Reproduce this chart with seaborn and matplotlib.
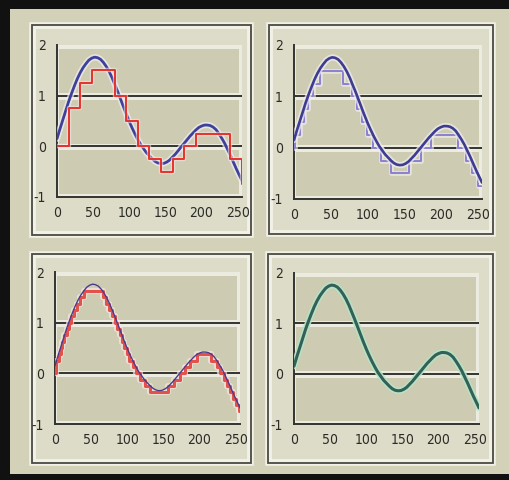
import matplotlib
matplotlib.use("Agg")
import matplotlib.pyplot as plt
import matplotlib.patheffects as pe
from matplotlib.patches import Rectangle
from matplotlib import font_manager
import seaborn as sns

# ---------------- data ----------------
curve_x = [0, 4, 8, 12, 16, 20, 24, 28, 32, 36, 40, 44, 48, 52, 56, 60, 64, 68, 72, 76,
           80, 84, 88, 92, 96, 100, 104, 108, 112, 116, 120, 124, 128, 132, 136, 140, 144,
           148, 152, 156, 160, 164, 168, 172, 176, 180, 184, 188, 192, 196, 200, 204, 208,
           212, 216, 220, 224, 228, 232, 236, 240, 244, 248, 252, 256]
curve_y = [0.15, 0.34, 0.52, 0.70, 0.88, 1.04, 1.19, 1.33, 1.45, 1.55, 1.63, 1.70, 1.74,
           1.76, 1.75, 1.72, 1.66, 1.58, 1.48, 1.36, 1.22, 1.08, 0.93, 0.78, 0.63, 0.49,
           0.36, 0.24, 0.13, 0.03, -0.05, -0.13, -0.19, -0.25, -0.30, -0.33, -0.34, -0.335,
           -0.31, -0.27, -0.21, -0.15, -0.08, -0.01, 0.06, 0.13, 0.20, 0.26, 0.32, 0.37,
           0.40, 0.42, 0.42, 0.41, 0.38, 0.33, 0.25, 0.16, 0.06, -0.06, -0.18, -0.31, -0.44,
           -0.56, -0.68]

# top-left: coarse sample-and-hold (red)
coarse_x = [0, 16, 32, 48, 64, 80, 96, 112, 128, 144, 160, 176, 192, 208, 224, 240, 256]
coarse_y = [0, 0.75, 1.25, 1.5, 1.5, 1.0, 0.5, 0, -0.25, -0.5, -0.25, 0, 0.25, 0.25, 0.25, -0.25, -0.75]

# top-right: quarter-step quantised (purple)
quarter_x = [0, 2, 8, 13, 19, 26, 36, 67, 79, 86, 93, 100, 108, 118, 132, 157, 173,
             187, 224, 234, 242, 250, 256]
quarter_y = [0, 0.25, 0.5, 0.75, 1.0, 1.25, 1.5, 1.25, 1.0, 0.75, 0.5, 0.25, 0, -0.25,
             -0.5, -0.25, 0, 0.25, 0, -0.25, -0.5, -0.75, -0.75]

# bottom-left: eighth-step quantised (red)
eighth_x = [0, 1, 2, 5, 8, 10, 13, 16, 19, 22, 26, 30, 34, 40, 66, 71, 75, 79, 83, 86,
            90, 93, 96, 100, 103, 108, 112, 118, 124, 132, 157, 165, 173, 180, 187, 197,
            216, 224, 229, 234, 238, 242, 246, 250, 254, 256]
eighth_y = [0, 0.125, 0.25, 0.375, 0.5, 0.625, 0.75, 0.875, 1.0, 1.125, 1.25, 1.375, 1.5,
            1.625, 1.5, 1.375, 1.25, 1.125, 1.0, 0.875, 0.75, 0.625, 0.5, 0.375, 0.25,
            0.125, 0, -0.125, -0.25, -0.375, -0.25, -0.125, 0, 0.125, 0.25, 0.375, 0.25,
            0.125, 0, -0.125, -0.25, -0.375, -0.5, -0.625, -0.75, -0.75]

x_ticks = [0, 50, 100, 150, 200, 250]
y_ticks = [-1, 0, 1, 2]

# ---------------- style ----------------
sns.set_style("white")
avail = {f.name for f in font_manager.fontManager.ttflist}
fam = "Liberation Sans Narrow" if "Liberation Sans Narrow" in avail else "DejaVu Sans"
plt.rcParams["font.family"] = [fam]

W, H = 510, 480
BG = "#d3d1b7"
PANEL = "#dddcc8"
BAND = "#cdcbb1"
LIGHT = "#ecebe0"

fig = plt.figure(figsize=(W / 100, H / 100), dpi=100, facecolor=BG)


def frect(l, t, r, b):
    return [l / W, 1 - b / H, (r - l) / W, (b - t) / H]


def fig_box(l, t, r, b, z, **kw):
    fig.patches.append(Rectangle((l / W, 1 - b / H), (r - l) / W, (b - t) / H,
                                 transform=fig.transFigure, zorder=z, **kw))


# black border (top, left, bottom)
fig_box(0, 0, W, 9, -1, facecolor="#111111", edgecolor="none")
fig_box(0, 0, 10, H, -1, facecolor="#111111", edgecolor="none")
fig_box(0, 474, W, H, -1, facecolor="#111111", edgecolor="none")

# panel frames
frames = [(32, 25, 251, 235), (269, 25, 493, 234), (32, 254, 251, 463), (268, 254, 493, 463)]
for (l, t, r, b) in frames:
    fig_box(l, t, r, b, -3, facecolor=PANEL, edgecolor="#f2f1e8", linewidth=4)
    fig_box(l, t, r, b, -2, facecolor="none", edgecolor="#4a4a44", linewidth=1.3)
    fig_box(l + 3, t + 3, r - 3, b - 3, -2, facecolor="none", edgecolor="#f4f3ea",
            linewidth=1.2)

axes_px = [(57, 45, 242, 197), (294, 45, 482, 199), (55, 272, 240, 424), (294, 273, 479, 424)]

halo = [pe.Stroke(linewidth=4.5, foreground="#f3eef0", alpha=0.7), pe.Normal()]

axes = []
for (l, t, r, b) in axes_px:
    ax = fig.add_axes(frect(l, t, r, b))
    ax.set_zorder(5)
    ax.set_facecolor(LIGHT)
    ax.set_xlim(0, 256)
    ax.set_ylim(-1, 2)
    for k in (-1, 0, 1):
        ax.add_patch(Rectangle((3, k + 0.05), 249, 0.87, facecolor=BAND,
                               edgecolor="none", zorder=0))
    for gy in (0, 1):
        ax.axhline(gy, color="#333330", lw=1.4, zorder=1)
    for s in ("top", "right"):
        ax.spines[s].set_visible(False)
    for s in ("left", "bottom"):
        ax.spines[s].set_color("#333330")
        ax.spines[s].set_linewidth(1.4)
    ax.set_xticks(x_ticks)
    ax.set_yticks(y_ticks)
    ax.set_xticklabels([str(v) for v in x_ticks], fontstretch="condensed")
    ax.set_yticklabels([str(v) for v in y_ticks], fontstretch="condensed")
    ax.tick_params(axis="x", direction="inout", length=5, width=1, color="#333330",
                   labelsize=10, labelcolor="#2b2b28", pad=4)
    ax.tick_params(axis="y", direction="out", length=3, width=1, color="#333330",
                   labelsize=10, labelcolor="#2b2b28", pad=5)
    axes.append(ax)

# top-left
ax = axes[0]
sns.lineplot(x=curve_x, y=curve_y, ax=ax, color="#3d419c", lw=2.0, estimator=None,
             sort=False, path_effects=halo, zorder=3)
sns.lineplot(x=coarse_x, y=coarse_y, ax=ax, color="#e5322c", lw=1.4, estimator=None,
             sort=False, drawstyle="steps-post", zorder=4,
             path_effects=[pe.Stroke(linewidth=3.2, foreground="#f6e4e4", alpha=0.6), pe.Normal()])

# top-right
ax = axes[1]
sns.lineplot(x=quarter_x, y=quarter_y, ax=ax, color="#8b80cf", lw=1.4, estimator=None,
             sort=False, drawstyle="steps-post", zorder=3,
             path_effects=[pe.Stroke(linewidth=3.5, foreground="#f2f0f6", alpha=0.6), pe.Normal()])
sns.lineplot(x=curve_x, y=curve_y, ax=ax, color="#3c3c90", lw=1.9, estimator=None,
             sort=False, path_effects=halo, zorder=4)

# bottom-left
ax = axes[2]
sns.lineplot(x=eighth_x, y=eighth_y, ax=ax, color="#e4504a", lw=2.2, estimator=None,
             sort=False, drawstyle="steps-post", zorder=3,
             path_effects=[pe.Stroke(linewidth=4.5, foreground="#f6e8e4", alpha=0.7), pe.Normal()])
sns.lineplot(x=curve_x, y=curve_y, ax=ax, color="#4a3c8c", lw=1.0, estimator=None,
             sort=False, zorder=4)

# bottom-right
ax = axes[3]
sns.lineplot(x=curve_x, y=curve_y, ax=ax, color="#35605a", lw=2.2, estimator=None,
             sort=False, zorder=4,
             path_effects=[pe.Stroke(linewidth=4.6, foreground="#b3e6c4", alpha=0.9), pe.Normal()])

for ax in axes:
    ax.set_xlabel("")
    ax.set_ylabel("")
    leg = ax.get_legend()
    if leg is not None:
        leg.remove()

fig.savefig("out.png", dpi=100, facecolor=fig.get_facecolor())
